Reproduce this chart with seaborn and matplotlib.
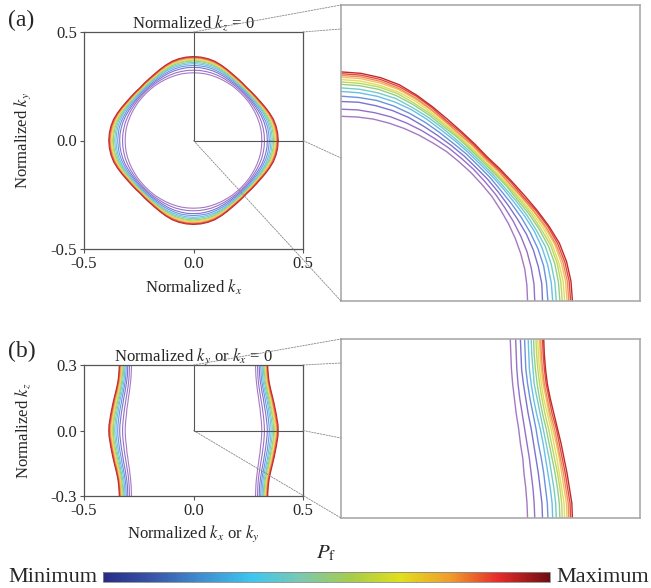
import numpy as np
import pandas as pd
import seaborn as sns
import matplotlib as mpl
import matplotlib.pyplot as plt
from matplotlib.colors import LinearSegmentedColormap
from matplotlib.patches import ConnectionPatch
from matplotlib.ticker import FormatStrFormatter

# ---- values (13 contours, minimum -> maximum P_f) ----
# panel (a): radius of each contour in the kz = 0 plane, one octant (0..45 deg)
angle_deg = [0, 5, 10, 15, 20, 25, 30, 35, 40, 45]
radius_kz0 = [
    [0.312, 0.312, 0.312, 0.311, 0.310, 0.309, 0.308, 0.308, 0.307, 0.307],
    [0.324, 0.324, 0.323, 0.322, 0.320, 0.318, 0.316, 0.315, 0.314, 0.314],
    [0.337, 0.337, 0.335, 0.333, 0.330, 0.326, 0.323, 0.321, 0.320, 0.319],
    [0.346, 0.345, 0.344, 0.341, 0.337, 0.333, 0.329, 0.326, 0.325, 0.324],
    [0.354, 0.353, 0.351, 0.348, 0.344, 0.339, 0.334, 0.331, 0.329, 0.328],
    [0.360, 0.359, 0.357, 0.354, 0.348, 0.343, 0.338, 0.334, 0.332, 0.331],
    [0.366, 0.365, 0.363, 0.359, 0.353, 0.347, 0.341, 0.338, 0.335, 0.334],
    [0.370, 0.369, 0.367, 0.363, 0.356, 0.350, 0.344, 0.340, 0.337, 0.336],
    [0.374, 0.373, 0.370, 0.366, 0.360, 0.353, 0.346, 0.342, 0.339, 0.338],
    [0.378, 0.377, 0.374, 0.370, 0.363, 0.356, 0.349, 0.344, 0.342, 0.340],
    [0.381, 0.380, 0.377, 0.372, 0.365, 0.357, 0.350, 0.345, 0.343, 0.341],
    [0.384, 0.383, 0.380, 0.375, 0.368, 0.360, 0.352, 0.348, 0.345, 0.343],
    [0.387, 0.386, 0.383, 0.378, 0.370, 0.362, 0.355, 0.350, 0.347, 0.345],
]

# panel (b): kx of each contour in the ky = 0 plane vs kz (0..0.3)
kz_vals = [0.0, 0.025, 0.05, 0.075, 0.10, 0.125, 0.15, 0.175, 0.20, 0.225, 0.25, 0.275, 0.30]
kx_ky0 = [
    [0.312, 0.311, 0.309, 0.306, 0.304, 0.300, 0.297, 0.293, 0.290, 0.287, 0.285, 0.284, 0.283],
    [0.324, 0.323, 0.321, 0.318, 0.315, 0.311, 0.307, 0.303, 0.299, 0.296, 0.294, 0.293, 0.292],
    [0.337, 0.336, 0.333, 0.330, 0.326, 0.322, 0.318, 0.313, 0.309, 0.305, 0.302, 0.301, 0.300],
    [0.346, 0.345, 0.342, 0.339, 0.335, 0.330, 0.326, 0.321, 0.316, 0.312, 0.309, 0.308, 0.307],
    [0.354, 0.353, 0.350, 0.346, 0.342, 0.338, 0.333, 0.327, 0.322, 0.318, 0.315, 0.314, 0.313],
    [0.360, 0.359, 0.356, 0.352, 0.348, 0.343, 0.338, 0.333, 0.328, 0.323, 0.321, 0.319, 0.318],
    [0.366, 0.365, 0.362, 0.358, 0.353, 0.348, 0.343, 0.337, 0.332, 0.328, 0.325, 0.323, 0.322],
    [0.370, 0.369, 0.366, 0.362, 0.357, 0.352, 0.347, 0.341, 0.336, 0.332, 0.329, 0.327, 0.326],
    [0.374, 0.373, 0.369, 0.365, 0.361, 0.356, 0.351, 0.345, 0.339, 0.335, 0.332, 0.330, 0.329],
    [0.378, 0.377, 0.373, 0.369, 0.365, 0.360, 0.354, 0.348, 0.343, 0.338, 0.335, 0.333, 0.332],
    [0.381, 0.380, 0.376, 0.372, 0.367, 0.362, 0.357, 0.350, 0.345, 0.340, 0.337, 0.335, 0.334],
    [0.384, 0.383, 0.379, 0.375, 0.370, 0.365, 0.360, 0.353, 0.348, 0.343, 0.340, 0.338, 0.337],
    [0.387, 0.386, 0.382, 0.378, 0.373, 0.368, 0.362, 0.356, 0.350, 0.345, 0.342, 0.340, 0.339],
]

line_colors = ['#a678c4', '#9570c8', '#7c72d0', '#6b93dc', '#68bfe9', '#76cbc6',
               '#93cf86', '#bcd762', '#e2de58', '#f2c064', '#f08c58', '#e24a40',
               '#c22a2a']
cbar_colors = ['#262b85', '#3a56a8', '#3f8fd0', '#3ec6f0', '#7dc9ae', '#a6cc4a',
               '#e2df1c', '#f09c2c', '#e4292a', '#6e0f12']

sns.set_style("white")
plt.rcParams['font.family'] = ['Liberation Serif', 'DejaVu Serif']
plt.rcParams['mathtext.fontset'] = 'stix'


def loop_xy(r_oct):
    # mirror the octant to a full closed curve (4-fold + mirror symmetry)
    quad_r = list(r_oct) + list(r_oct[-2::-1])
    quad_a = list(angle_deg) + [90 - a for a in angle_deg[-2::-1]]
    rr, aa = [], []
    for q in range(4):
        rr += quad_r[:-1]
        aa += [a + 90 * q for a in quad_a[:-1]]
    rr.append(quad_r[0])
    aa.append(360)
    th = np.deg2rad(aa)
    return np.array(rr) * np.cos(th), np.array(rr) * np.sin(th)


def branch_xy(kx_row):
    kz = [-v for v in kz_vals[:0:-1]] + list(kz_vals)
    kx = list(kx_row[:0:-1]) + list(kx_row)
    return np.array(kx), np.array(kz)


def box(l, t, r, b):
    return [l / 651, 1 - b / 588, (r - l) / 651, (b - t) / 588]


fig = plt.figure(figsize=(6.51, 5.88), dpi=100)
ax_a = fig.add_axes(box(84, 32, 303, 249))
ax_az = fig.add_axes(box(341, 5, 640, 301))
ax_b = fig.add_axes(box(84, 365, 303, 496))
ax_bz = fig.add_axes(box(341, 339, 640, 518))

# contours
for r_oct, c in zip(radius_kz0, line_colors):
    x, y = loop_xy(r_oct)
    for ax, lw in ((ax_a, 0.8), (ax_az, 1.0)):
        sns.lineplot(x=x, y=y, sort=False, estimator=None, color=c, lw=lw,
                     legend=False, ax=ax)

for kx_row, c in zip(kx_ky0, line_colors):
    kx, kz = branch_xy(kx_row)
    for sign in (1, -1):
        sns.lineplot(x=sign * kx, y=kz, sort=False, estimator=None, color=c,
                     lw=0.8, legend=False, ax=ax_b)
    sns.lineplot(x=kx, y=kz, sort=False, estimator=None, color=c, lw=1.0,
                 legend=False, ax=ax_bz)

# axes styling
for ax, ylim in ((ax_a, 0.5), (ax_b, 0.3)):
    ax.set_xlim(-0.5, 0.5)
    ax.set_ylim(-ylim, ylim)
    ax.set_xticks([-0.5, 0.0, 0.5])
    ax.set_yticks([-ylim, 0.0, ylim])
    ax.xaxis.set_major_formatter(FormatStrFormatter('%.1f'))
    ax.yaxis.set_major_formatter(FormatStrFormatter('%.1f'))
    ax.tick_params(direction='out', length=3, width=0.8, color='#555555',
                   labelsize=12, pad=2, bottom=True, left=True)
    for s in ax.spines.values():
        s.set_color('#555555')
        s.set_linewidth(0.9)
    # zoom box
    ax.plot([0, 0], [0, ylim], color='#555555', lw=0.8)
    ax.plot([0, 0.5], [0, 0], color='#555555', lw=0.8)

ax_a.set_xlabel('Normalized $k_x$', fontsize=12)
ax_a.set_ylabel('Normalized $k_y$', fontsize=12)
ax_a.set_title('Normalized $k_z$ = 0', fontsize=12, pad=3)
ax_a.xaxis.set_label_coords(0.5, -0.134)
ax_a.yaxis.set_label_coords(-0.233, 0.5)
ax_b.set_xlabel('Normalized $k_x$ or $k_y$', fontsize=12)
ax_b.set_ylabel('Normalized $k_z$', fontsize=12)
ax_b.set_title('Normalized $k_y$ or $k_x$ = 0', fontsize=12, pad=3)
ax_b.xaxis.set_label_coords(0.5, -0.206)
ax_b.yaxis.set_label_coords(-0.233, 0.5)

for ax, ylim in ((ax_az, 0.5), (ax_bz, 0.3)):
    ax.set_xlim(0, 0.5)
    ax.set_ylim(0, ylim)
    ax.set_xticks([])
    ax.set_yticks([])
    ax.set_xlabel('')
    ax.set_ylabel('')
    for s in ax.spines.values():
        s.set_color('#aaaaaa')
        s.set_linewidth(1.2)

fig.text(0.012, 1 - 20 / 588, '(a)', fontsize=17, va='center', ha='left')
fig.text(0.012, 1 - 351 / 588, '(b)', fontsize=17, va='center', ha='left')

# dashed connectors
dash = dict(color='#888888', lw=0.6, ls=(0, (2, 1.5)))
for src, dst in (((0, 0.5), 1.0), ((0.5, 0.5), 0.919), ((0.5, 0), 0.483), ((0, 0), 0.0)):
    fig.add_artist(ConnectionPatch(xyA=src, coordsA=ax_a.transData,
                                   xyB=(0, dst), coordsB=ax_az.transAxes, **dash))
for src, dst in (((0, 0.3), 1.0), ((0.5, 0.3), 0.866), ((0.5, 0), 0.447), ((0, 0), 0.0)):
    fig.add_artist(ConnectionPatch(xyA=src, coordsA=ax_b.transData,
                                   xyB=(0, dst), coordsB=ax_bz.transAxes, **dash))

# colour bar
cmap = LinearSegmentedColormap.from_list('pf', cbar_colors)
cax = fig.add_axes(box(103, 572, 550, 582))
cb = fig.colorbar(mpl.cm.ScalarMappable(norm=mpl.colors.Normalize(0, 1), cmap=cmap),
                  cax=cax, orientation='horizontal')
cb.set_ticks([0.1, 0.2, 0.3, 0.4, 0.5, 0.6, 0.7, 0.8, 0.9])
cax.tick_params(direction='in', length=2, width=0.6, color='#333333',
                labelbottom=False, top=True, bottom=True)
cb.outline.set_edgecolor('#888888')
cb.outline.set_linewidth(0.6)
fig.text(326 / 651, 1 - 553 / 588, r'$P_\mathrm{f}$', fontsize=15, ha='center', va='center')
fig.text(97 / 651, 1 - 577 / 588, 'Minimum', fontsize=16, ha='right', va='center')
fig.text(556 / 651, 1 - 577 / 588, 'Maximum', fontsize=16, ha='left', va='center')

fig.savefig('out.png', dpi=100)
